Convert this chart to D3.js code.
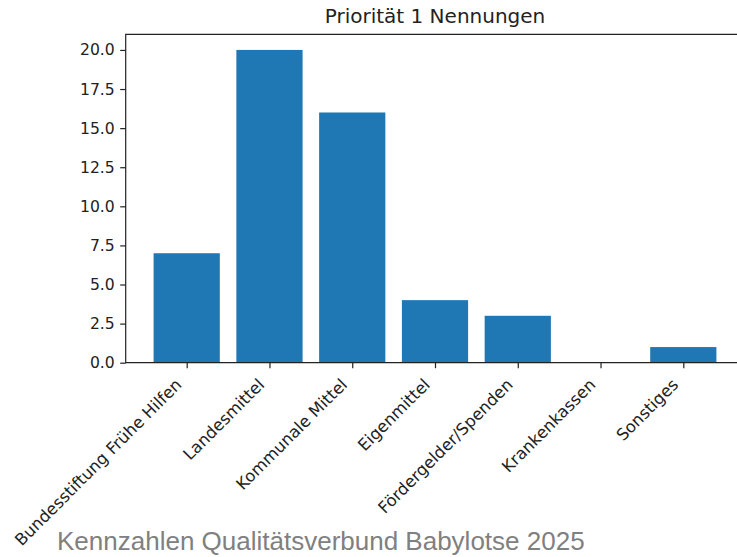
<!DOCTYPE html>
<html>
<head>
<meta charset="utf-8">
<script src="https://cdn.jsdelivr.net/npm/d3@7"></script>
<style>
  body { margin: 0; background: #fff; }
  svg { display: block; }
  .tick text { font-family: "DejaVu Sans", sans-serif; fill: #222; }
</style>
</head>
<body>
<svg id="chart" width="737" height="557"></svg>
<script>
const categories = ["Bundesstiftung Frühe Hilfen", "Landesmittel", "Kommunale Mittel", "Eigenmittel", "Fördergelder/Spenden", "Krankenkassen", "Sonstiges"];
const values = [7, 20, 16, 4, 3, 0, 1];
const yTicks = [0, 2.5, 5, 7.5, 10, 12.5, 15, 17.5, 20];

const svg = d3.select("#chart");
const plotLeft = 125.7, plotTop = 34.3, plotBottom = 362.7, plotRight = 740;

// x positions: category index -> pixel (tick spacing ~82.8px)
const x = d3.scaleLinear()
  .domain([0, 6])
  .range([186.7, 683.3]);
const step = x(1) - x(0);
const barW = step * 0.8;

const y = d3.scaleLinear()
  .domain([0, 21])
  .range([plotBottom, plotTop]);

// bars
svg.append("g")
  .selectAll("rect")
  .data(values)
  .enter()
  .append("rect")
  .attr("x", (d, i) => x(i) - barW / 2)
  .attr("y", d => y(d))
  .attr("width", barW)
  .attr("height", d => y(0) - y(d))
  .attr("fill", "#1f77b4");

// y axis
const yAxis = d3.axisLeft(y)
  .tickValues(yTicks)
  .tickFormat(d3.format(".1f"))
  .tickSize(5.5)
  .tickPadding(5.5);
const gy = svg.append("g")
  .attr("transform", "translate(" + plotLeft + ",0)")
  .call(yAxis);
gy.select(".domain").remove();
gy.selectAll(".tick line").attr("stroke", "#222").attr("stroke-width", 1.2);
gy.selectAll(".tick text").style("font-size", "15.6px");

// x axis, labels rotated 45deg and right-aligned on the tick
const xAxis = d3.axisBottom(x)
  .tickValues(d3.range(categories.length))
  .tickFormat(i => categories[i])
  .tickSize(5.5)
  .tickPadding(0);
const gx = svg.append("g")
  .attr("transform", "translate(0," + plotBottom + ")")
  .call(xAxis);
gx.select(".domain").remove();
gx.selectAll(".tick line").attr("stroke", "#222").attr("stroke-width", 1.2);
gx.selectAll(".tick text")
  .style("font-size", "16.4px")
  .attr("text-anchor", "end")
  .attr("dy", null)
  .attr("y", null)
  .attr("transform", "translate(-4.5,23) rotate(-45)");

// spines (left, top, bottom; right is cut off)
svg.append("path")
  .attr("d", "M" + plotRight + "," + plotTop + "H" + plotLeft + "V" + plotBottom + "H" + plotRight)
  .attr("fill", "none")
  .attr("stroke", "#222")
  .attr("stroke-width", 1.2);

// title
svg.append("text")
  .attr("x", 435)
  .attr("y", 22.5)
  .attr("text-anchor", "middle")
  .style("font-family", "DejaVu Sans, sans-serif")
  .style("font-size", "20px")
  .style("fill", "#222")
  .text("Priorität 1 Nennungen");

// footer
svg.append("text")
  .attr("x", 57)
  .attr("y", 550)
  .style("font-family", "Liberation Sans, Arial, sans-serif")
  .style("font-size", "26px")
  .style("fill", "#808080")
  .text("Kennzahlen Qualitätsverbund Babylotse 2025");
</script>
</body>
</html>
